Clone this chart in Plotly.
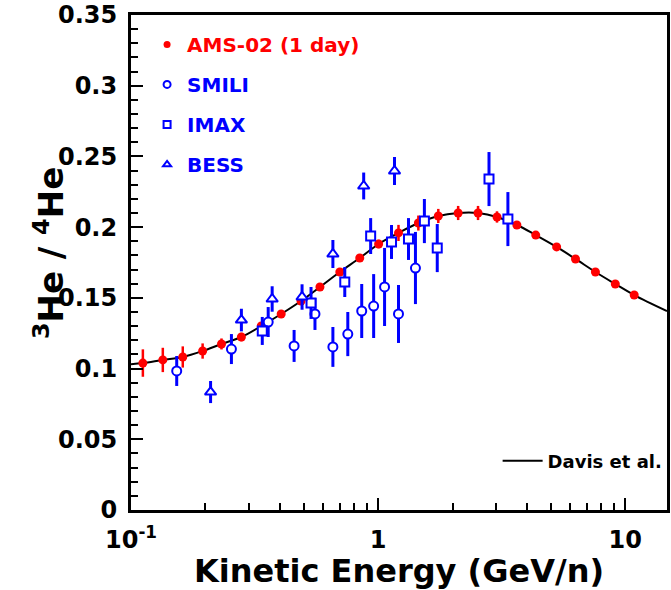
import plotly.graph_objects as go

# ---------------- data ----------------
ams_e = [0.1117, 0.1345, 0.162, 0.1949, 0.2324, 0.2797, 0.3366, 0.4052, 0.4876, 0.5815,
         0.6999, 0.8426, 1.005, 1.209, 1.455, 1.752, 2.108, 2.537, 3.027, 3.643,
         4.343, 5.277, 6.293, 7.574, 9.116, 10.87]
ams_r = [0.1039, 0.1061, 0.1082, 0.1124, 0.1174, 0.1223, 0.1301, 0.1386, 0.1478, 0.1577,
         0.1683, 0.1782, 0.1881, 0.1959, 0.2029, 0.2079, 0.2100, 0.2100, 0.2072, 0.2015,
         0.1944, 0.1860, 0.1775, 0.1683, 0.1598, 0.1520]
ams_err = [0.0097, 0.0086, 0.0075, 0.0054, 0.0039, 0.003, 0.002, 0.002, 0.002, 0.002,
           0.002, 0.002, 0.003, 0.0057, 0.0053, 0.005, 0.005, 0.005, 0.004, 0.002,
           0.002, 0.002, 0.002, 0.002, 0.002, 0.002]

smili_e = [0.1531, 0.2549, 0.3591, 0.4571, 0.5552, 0.6561, 0.7539, 0.8583, 0.9592, 1.062, 1.209, 1.416]
smili_r = [0.0983, 0.1138, 0.1329, 0.1160, 0.1386, 0.1153, 0.1244, 0.1407, 0.1442, 0.1577, 0.1386, 0.1711]
smili_err = [0.0106, 0.0106, 0.0106, 0.0113, 0.0113, 0.0141, 0.0156, 0.0191, 0.0226, 0.0276, 0.0205, 0.0255]

imax_e = [0.3398, 0.5352, 0.7329, 0.9329, 1.133, 1.327, 1.539, 1.735, 2.810, 3.351]
imax_r = [0.1266, 0.1464, 0.1612, 0.1937, 0.1895, 0.1916, 0.2043, 0.1852, 0.2340, 0.2057]
imax_err = [0.0099, 0.0113, 0.0106, 0.0127, 0.0120, 0.0148, 0.0156, 0.0170, 0.0191, 0.0191]

bess_e = [0.2099, 0.2797, 0.3726, 0.4923, 0.6561, 0.8742, 1.165]
bess_r = [0.0834, 0.1343, 0.1492, 0.1506, 0.1810, 0.2291, 0.2397]
bess_err = [0.0078, 0.0080, 0.0090, 0.0090, 0.0099, 0.0095, 0.0099]

davis_e = [0.1, 0.1117, 0.1345, 0.162, 0.1949, 0.2324, 0.2797, 0.3366, 0.4052, 0.4876,
           0.5815, 0.6999, 0.8426, 1.005, 1.209, 1.455, 1.752, 2.108, 2.537, 3.027,
           3.643, 4.343, 5.277, 6.293, 7.574, 9.116, 10.87, 14.76]
davis_r = [0.1030, 0.1039, 0.1061, 0.1082, 0.1124, 0.1174, 0.1223, 0.1301, 0.1386, 0.1478,
           0.1577, 0.1683, 0.1782, 0.1881, 0.1959, 0.2029, 0.2079, 0.2100, 0.2100, 0.2072,
           0.2015, 0.1944, 0.1860, 0.1775, 0.1683, 0.1598, 0.1520, 0.1407]

x_major = [0.1, 1, 10]
x_major_text = ["10<sup>-1</sup>", "1", "10"]
x_minor = [0.2, 0.3, 0.4, 0.5, 0.6, 0.7, 0.8, 0.9, 2, 3, 4, 5, 6, 7, 8, 9]

RED = "#ff0000"
BLUE = "#0000ff"
FONT = "DejaVu Sans"

fig = go.Figure()

# Davis et al. curve
fig.add_trace(go.Scatter(x=davis_e, y=davis_r, mode="lines", line=dict(color="black", width=2, shape="spline"),
                         name="Davis et al.", legend="legend2", showlegend=True))

# AMS-02
fig.add_trace(go.Scatter(x=ams_e, y=ams_r, mode="markers",
                         marker=dict(color=RED, size=9, symbol="circle"),
                         error_y=dict(type="data", array=ams_err, color=RED, thickness=2.5, width=0),
                         showlegend=False))
# SMILI
fig.add_trace(go.Scatter(x=smili_e, y=smili_r, mode="markers",
                         marker=dict(color="white", size=9, symbol="circle", line=dict(color=BLUE, width=2)),
                         error_y=dict(type="data", array=smili_err, color=BLUE, thickness=3, width=0),
                         showlegend=False))
# IMAX
fig.add_trace(go.Scatter(x=imax_e, y=imax_r, mode="markers",
                         marker=dict(color="white", size=9, symbol="square", line=dict(color=BLUE, width=2)),
                         error_y=dict(type="data", array=imax_err, color=BLUE, thickness=3, width=0),
                         showlegend=False))
# BESS
fig.add_trace(go.Scatter(x=bess_e, y=bess_r, mode="markers",
                         marker=dict(color="white", size=10, symbol="triangle-up", line=dict(color=BLUE, width=2)),
                         error_y=dict(type="data", array=bess_err, color=BLUE, thickness=3, width=0),
                         showlegend=False))

# legend entries (top-left)
leg_items = [
    ("AMS-02 (1 day)", dict(color=RED, size=7, symbol="circle"), RED),
    ("SMILI", dict(color="white", size=7, symbol="circle", line=dict(color=BLUE, width=2)), BLUE),
    ("IMAX", dict(color="white", size=7, symbol="square", line=dict(color=BLUE, width=2)), BLUE),
    ("BESS", dict(color="white", size=7, symbol="triangle-up", line=dict(color=BLUE, width=2)), BLUE),
]
for i, (nm, mk, col) in enumerate(leg_items):
    fig.add_trace(go.Scatter(x=[None], y=[None], mode="markers", marker=mk,
                             name=f'<span style="color:{col}">{nm}</span>',
                             legendgroup=f"g{i}", legend="legend"))

fig.update_layout(
    width=671, height=590,
    margin=dict(l=131, r=1, t=15, b=80),
    plot_bgcolor="white", paper_bgcolor="white",
    font=dict(family=FONT, color="black", weight="bold"),
    legend=dict(x=0.03, y=0.98, xanchor="left", yanchor="top", bgcolor="rgba(0,0,0,0)",
                font=dict(size=20, family=FONT, weight="bold"), tracegroupgap=11),
    legend2=dict(x=0.684, y=0.099, xanchor="left", yanchor="middle", bgcolor="rgba(0,0,0,0)",
                 font=dict(size=18, family=FONT, weight="bold", color="black"), itemwidth=40),
    annotations=[dict(text="<sup>3</sup>He / <sup>4</sup>He", textangle=-90,
                      xref="paper", yref="paper", x=-0.154, y=0.52,
                      xanchor="center", yanchor="middle", showarrow=False,
                      font=dict(size=34, family=FONT, weight="bold", color="black"))],
)

fig.update_xaxes(
    type="log", range=[-1, 1.169],
    showline=True, linecolor="black", linewidth=3, mirror=True,
    ticks="inside", ticklen=12, tickwidth=2, tickcolor="black",
    tickmode="array", tickvals=x_major, ticktext=x_major_text,
    tickfont=dict(size=24, family=FONT, weight="bold"), ticklabelstandoff=6,
    minor=dict(tickmode="array", tickvals=x_minor, ticks="inside", ticklen=7, tickwidth=2, tickcolor="black"),
    showgrid=False, zeroline=False,
    title=dict(text="Kinetic Energy (GeV/n)", font=dict(size=32, family=FONT, weight="bold"), standoff=4),
)
fig.update_yaxes(
    range=[0, 0.35],
    showline=True, linecolor="black", linewidth=3, mirror=True,
    ticks="inside", ticklen=12, tickwidth=2, tickcolor="black",
    tick0=0, dtick=0.05,
    tickfont=dict(size=24, family=FONT, weight="bold"), ticklabelstandoff=6,
    minor=dict(dtick=0.01, ticks="inside", ticklen=7, tickwidth=2, tickcolor="black"),
    showgrid=False, zeroline=False,
)

fig.write_html("out.html")
